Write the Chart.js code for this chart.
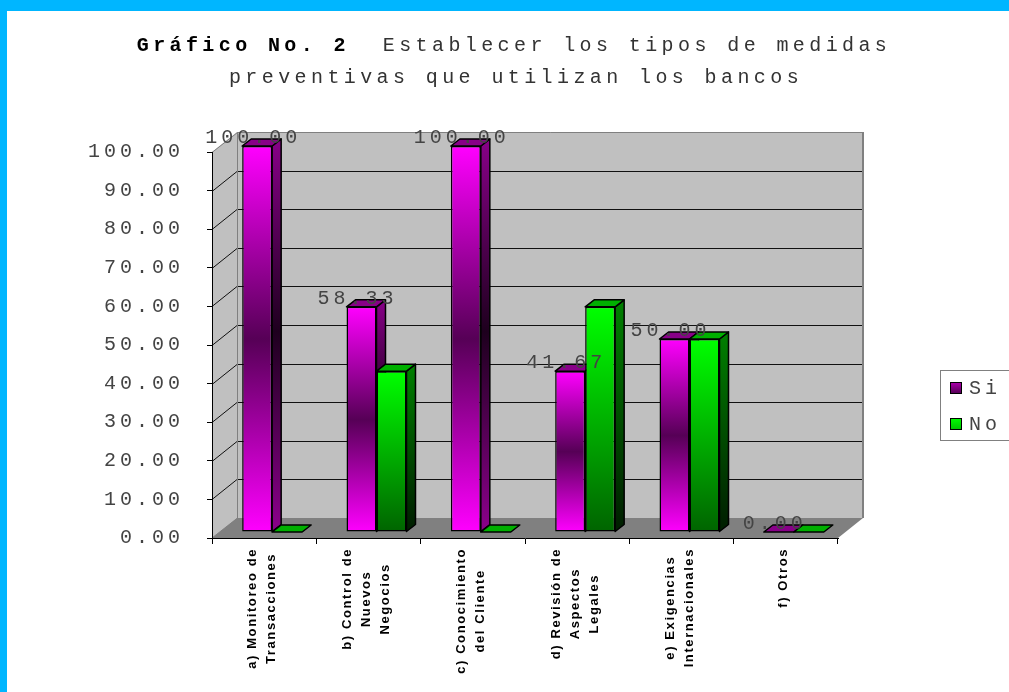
<!DOCTYPE html>
<html>
<head>
<meta charset="utf-8">
<script src="https://cdn.jsdelivr.net/npm/chart.js@4.4.0/dist/chart.umd.min.js"></script>
<style>
  html, body { margin: 0; padding: 0; background: #fff; overflow: hidden; }
  canvas { display: block; }
</style>
</head>
<body>
<canvas id="grafico" width="1009" height="692"></canvas>
<script>
const categorias = [
  ['a) Monitoreo de', 'Transacciones'],
  ['b) Control de', 'Nuevos', 'Negocios'],
  ['c) Conocimiento', 'del Cliente'],
  ['d) Revisión de', 'Aspectos', 'Legales'],
  ['e) Exigencias', 'Internacionales'],
  ['f) Otros']
];
const valoresSi = [100.00, 58.33, 100.00, 41.67, 50.00, 0.00];
const valoresNo = [0.00, 41.67, 0.00, 58.33, 50.00, 0.00];
const nombresSerie = ['Si', 'No'];
const tituloNegrita = 'Gráfico No. 2';
const tituloLinea1 = '  Establecer los tipos de medidas';
const tituloLinea2 = 'preventivas que utilizan los bancos';

const MONO = "'Courier New', 'Liberation Mono', monospace";
// profundidad de las paredes y de las barras (efecto 3D)
const PARED_DX = 25, PARED_DY = 20;
const BARRA_DX = 8, BARRA_DY = 6;
const FONDO_DX = 9, FONDO_DY = 7;

function poligono(ctx, pts) {
  ctx.beginPath();
  ctx.moveTo(pts[0][0], pts[0][1]);
  for (let i = 1; i < pts.length; i++) ctx.lineTo(pts[i][0], pts[i][1]);
  ctx.closePath();
}

function degradado(ctx, y0, y1, colores) {
  const g = ctx.createLinearGradient(0, y0, 0, y1);
  colores.forEach((c, i) => g.addColorStop(i / (colores.length - 1), c));
  return g;
}

function rellenoBarra(c, colores) {
  const chart = c.chart;
  const y = chart.scales.y;
  if (!y || !chart.chartArea) return colores[0];
  const top = y.getPixelForValue(c.dataset.data[c.dataIndex]);
  const base = y.getPixelForValue(0);
  if (base - top < 1) return colores[0];
  return degradado(chart.ctx, top, base, colores);
}

const coloresCara = [
  { frente: ['#ff00ff', '#560056', '#ff00ff'], lado: ['#880088', '#1e001e', '#880088'], tapa: '#880088' },
  { frente: ['#00ff00', '#006400'], lado: ['#008000', '#002000'], tapa: '#00b000' }
];

const efecto3d = {
  id: 'efecto3d',
  beforeDraw(chart) {
    const { ctx, chartArea: a } = chart;
    const L = a.left, R = a.right, T = a.top, B = a.bottom;
    ctx.save();
    ctx.fillStyle = '#fff';
    ctx.fillRect(0, 0, chart.width, chart.height);
    ctx.fillStyle = '#00b6ff';
    ctx.fillRect(0, 0, chart.width, 11);
    ctx.fillRect(0, 0, 7, chart.height);

    // pared izquierda, pared del fondo y piso
    ctx.fillStyle = '#c0c0c0';
    poligono(ctx, [[L, T], [L + PARED_DX, T - PARED_DY], [L + PARED_DX, B - PARED_DY], [L, B]]);
    ctx.fill();
    ctx.fillRect(L + PARED_DX, T - PARED_DY, R - L, B - T);
    ctx.fillStyle = '#808080';
    poligono(ctx, [[L, B], [L + PARED_DX, B - PARED_DY], [R + PARED_DX, B - PARED_DY], [R, B]]);
    ctx.fill();

    // líneas de división sobre las paredes
    const y = chart.scales.y;
    ctx.lineWidth = 1;
    ctx.strokeStyle = '#111';
    y.ticks.forEach(t => {
      if (t.value <= y.min || t.value >= y.max) return;
      const py = Math.round(y.getPixelForValue(t.value)) + 0.5;
      ctx.beginPath();
      ctx.moveTo(L, py);
      ctx.lineTo(L + PARED_DX, py - PARED_DY);
      ctx.lineTo(R + PARED_DX, py - PARED_DY);
      ctx.stroke();
    });
    ctx.strokeStyle = '#808080';
    ctx.beginPath();
    ctx.moveTo(L, T + 0.5);
    ctx.lineTo(L + PARED_DX + 0.5, T - PARED_DY + 0.5);
    ctx.lineTo(R + PARED_DX, T - PARED_DY + 0.5);
    ctx.moveTo(L + PARED_DX + 0.5, T - PARED_DY);
    ctx.lineTo(L + PARED_DX + 0.5, B - PARED_DY);
    ctx.lineTo(L, B);
    ctx.stroke();
    ctx.lineWidth = 2;
    ctx.beginPath();
    ctx.moveTo(R + PARED_DX, T - PARED_DY);
    ctx.lineTo(R + PARED_DX, B - PARED_DY);
    ctx.stroke();
    ctx.restore();
    ctx.letterSpacing = '4px';
  },
  beforeDatasetsDraw(chart) {
    const ctx = chart.ctx;
    ctx.save();
    ctx.translate(BARRA_DX, -BARRA_DY);
    ctx.lineWidth = 1.5;
    ctx.strokeStyle = '#000';
    ctx.lineJoin = 'round';
    [0, 1].forEach(di => {
      const col = coloresCara[di];
      chart.getDatasetMeta(di).data.forEach(el => {
        const { x, y, base, width } = el.getProps(['x', 'y', 'base', 'width'], true);
        const l = x - width / 2, r = x + width / 2;
        if (base - y > 0.5) {
          ctx.fillStyle = degradado(ctx, y - FONDO_DY, base - FONDO_DY, col.lado);
          poligono(ctx, [[r, y], [r + FONDO_DX, y - FONDO_DY], [r + FONDO_DX, base - FONDO_DY], [r, base]]);
          ctx.fill();
          ctx.stroke();
        }
        ctx.fillStyle = col.tapa;
        poligono(ctx, [[l, y], [r, y], [r + FONDO_DX, y - FONDO_DY], [l + FONDO_DX, y - FONDO_DY]]);
        ctx.fill();
        ctx.stroke();
      });
    });
  },
  afterDatasetsDraw(chart) {
    const ctx = chart.ctx;
    // etiquetas de valor de la serie "Si"
    ctx.font = '20px ' + MONO;
    ctx.fillStyle = '#444';
    ctx.textAlign = 'center';
    ctx.textBaseline = 'middle';
    chart.getDatasetMeta(0).data.forEach((el, i) => {
      ctx.fillText(valoresSi[i].toFixed(2), el.x - 4, el.y - 8);
    });
    ctx.restore();
  },
  afterDraw(chart) {
    const ctx = chart.ctx;
    const x = chart.scales.x;
    ctx.save();

    // etiquetas de categoría, giradas
    ctx.letterSpacing = '1.6px';
    ctx.font = 'bold 13px "Liberation Sans", Arial, sans-serif';
    ctx.fillStyle = '#000';
    ctx.textAlign = 'center';
    ctx.textBaseline = 'middle';
    categorias.forEach((lineas, i) => {
      const cx = x.getPixelForValue(i) - 2;
      const maxW = Math.max(...lineas.map(t => ctx.measureText(t).width));
      lineas.forEach((t, k) => {
        ctx.save();
        ctx.translate(cx + (k - (lineas.length - 1) / 2) * 19, x.top + 10 + maxW / 2);
        ctx.rotate(-Math.PI / 2);
        ctx.fillText(t, 0, 0);
        ctx.restore();
      });
    });

    // título
    ctx.letterSpacing = '4.4px';
    ctx.textAlign = 'left';
    const fNeg = 'bold 20px ' + MONO, fNorm = '20px ' + MONO;
    ctx.font = fNeg;
    const wNeg = ctx.measureText(tituloNegrita).width;
    ctx.font = fNorm;
    const wRes = ctx.measureText(tituloLinea1).width;
    const centro = 514;
    let x0 = centro - (wNeg + wRes) / 2;
    ctx.font = fNeg;
    ctx.fillStyle = '#000';
    ctx.fillText(tituloNegrita, x0, 46);
    ctx.font = fNorm;
    ctx.fillStyle = '#333';
    ctx.fillText(tituloLinea1, x0 + wNeg, 46);
    ctx.textAlign = 'center';
    ctx.fillText(tituloLinea2, centro + 2, 78);

    // leyenda
    ctx.lineWidth = 1;
    ctx.strokeStyle = '#808080';
    ctx.strokeRect(940.5, 370.5, 90, 70);
    const muestras = [
      degradado(ctx, 382, 394, ['#b000b0', '#500050']),
      degradado(ctx, 418, 430, ['#00ff00', '#00c000'])
    ];
    ctx.letterSpacing = '4px';
    ctx.font = '20px ' + MONO;
    ctx.textAlign = 'left';
    nombresSerie.forEach((n, i) => {
      const yy = 388 + i * 36;
      ctx.fillStyle = muestras[i];
      ctx.fillRect(950, yy - 6, 12, 12);
      ctx.strokeStyle = '#000';
      ctx.strokeRect(950.5, yy - 5.5, 11, 11);
      ctx.fillStyle = '#444';
      ctx.fillText(n, 969, yy + 1);
    });
    ctx.restore();
  }
};

new Chart(document.getElementById('grafico'), {
  type: 'bar',
  data: {
    labels: categorias,
    datasets: [
      {
        label: nombresSerie[0],
        data: valoresSi,
        backgroundColor: c => rellenoBarra(c, coloresCara[0].frente),
        borderColor: '#000',
        borderWidth: 1.5,
        borderSkipped: false,
        clip: false
      },
      {
        label: nombresSerie[1],
        data: valoresNo,
        backgroundColor: c => rellenoBarra(c, coloresCara[1].frente),
        borderColor: '#000',
        borderWidth: 1.5,
        borderSkipped: false,
        clip: false
      }
    ]
  },
  options: {
    responsive: false,
    animation: false,
    devicePixelRatio: 1,
    layout: { padding: { top: 152, left: 0, right: 171, bottom: 0 } },
    categoryPercentage: 0.575,
    barPercentage: 1.0,
    plugins: {
      legend: { display: false },
      title: { display: false },
      tooltip: { enabled: false }
    },
    scales: {
      x: {
        ticks: { display: false },
        grid: { drawOnChartArea: false, tickLength: 6, color: '#000', offset: true },
        border: { display: true, color: '#000', width: 1 },
        afterFit(scale) { scale.height = 154; }
      },
      y: {
        min: 0,
        max: 100,
        ticks: {
          stepSize: 10,
          padding: 23,
          color: '#444',
          font: { family: MONO, size: 20 },
          callback: v => Number(v).toFixed(2)
        },
        grid: { drawOnChartArea: false, tickLength: 5, color: '#000' },
        border: { display: true, color: '#000', width: 1 },
        afterFit(scale) { scale.width = 212; }
      }
    }
  },
  plugins: [efecto3d]
});
</script>
</body>
</html>
